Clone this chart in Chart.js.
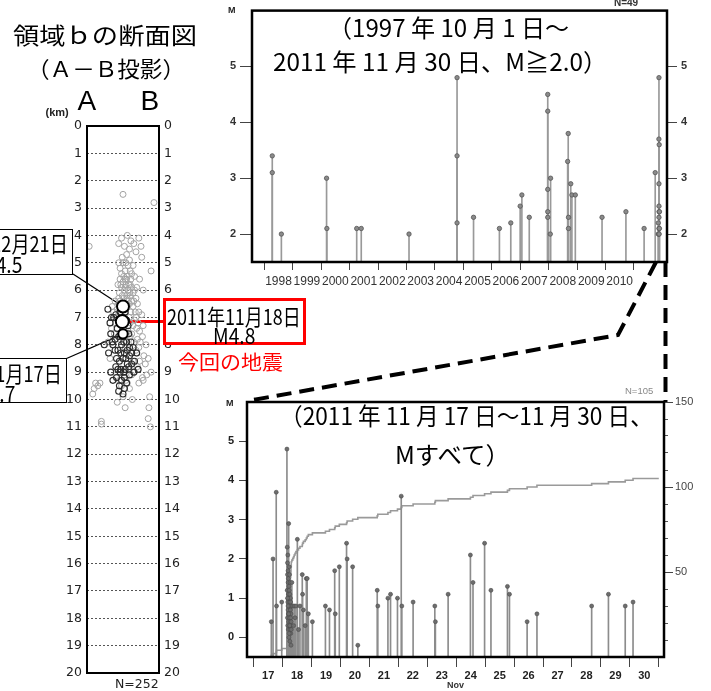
<!DOCTYPE html>
<html lang="ja">
<head>
<meta charset="utf-8">
<title>領域ｂの断面図と地震活動経過図</title>
<script src="https://cdn.jsdelivr.net/npm/chart.js@4.4.1/dist/chart.umd.min.js"></script>
<style>
  html, body { margin: 0; padding: 0; background: #fff; }
  body { position: relative; width: 711px; height: 691px; overflow: hidden; font-family: "Noto Sans CJK JP", sans-serif; }
  canvas { position: absolute; }
  .t { position: absolute; white-space: nowrap; line-height: 1; color: #000; }
  .box { position: absolute; box-sizing: border-box; background: #fff; }
  svg { position: absolute; left: 0; top: 0; }
</style>
</head>
<body>
<svg id="leaders" width="711" height="691" style="z-index:0"></svg>
<canvas id="cross" width="200" height="580" style="left:0;top:110px;z-index:1"></canvas>
<canvas id="longterm" width="489" height="292" style="left:222px;top:0;z-index:1"></canvas>
<canvas id="recent" width="489" height="311" style="left:222px;top:380px;z-index:1"></canvas>
<svg id="zoomlines" width="711" height="691" style="z-index:3"></svg>

<script>
// ---------- cross-section A-B (depth in km, distance along section in km) ----------
const depthTicks = [0,1,2,3,4,5,6,7,8,9,10,11,12,13,14,15,16,17,18,19,20];

// hypocentres before 2011-11-17 : [distance, depth]
const hypoPast = [
  [5.0,2.5],[9.3,2.8],[0.3,4.4],[4.4,4.3],[4.8,4.1],[5.2,4.4],[5.6,4.0],[5.9,4.5],[6.1,4.2],[6.5,4.3],
  [7.2,4.1],[7.5,4.4],[7.6,4.8],[6.8,4.6],
  [4.9,4.8],[5.5,4.7],[5.0,5.0],[5.4,5.0],[5.7,5.1],[6.0,5.3],[5.3,5.3],[4.8,5.4],[6.2,5.4],[6.4,5.1],
  [8.9,5.3],[4.6,5.2],[5.1,5.5],[5.6,5.5],[5.9,4.9],[6.6,5.5],[4.4,5.0],
  [4.6,5.6],[5.0,5.7],[5.5,5.6],[6.0,5.8],[4.8,5.9],[5.3,5.9],[5.7,6.0],[6.2,5.9],[6.4,6.1],[4.5,6.1],
  [4.9,6.2],[5.5,6.2],[6.0,6.2],[6.9,5.9],[7.3,5.6],[5.2,6.0],[5.8,5.8],[4.3,5.8],[6.6,6.0],[5.1,6.3],
  [5.6,6.3],[6.2,6.4],[4.7,5.8],[5.4,5.8],[6.1,5.6],[5.9,6.1],[4.4,6.3],[6.8,6.3],[7.8,6.0],[5.3,5.6],
  [3.9,6.4],[4.4,6.5],[5.9,6.5],[6.4,6.6],[6.7,6.8],[3.7,6.8],[7.2,6.8],[4.2,6.7],[6.5,6.4],[4.0,7.0],
  [6.8,7.0],[7.6,6.9],[3.5,6.6],[5.6,6.4],[4.6,6.4],[6.1,6.8],[7.0,6.5],
  [6.0,7.2],[6.4,7.3],[6.9,7.4],[7.3,7.5],[5.7,7.5],[4.0,7.2],[6.6,7.1],[7.8,7.3],[3.8,7.6],[6.2,7.6],
  [5.9,7.0],[7.1,7.2],[3.4,7.4],
  [6.0,7.7],[6.5,7.9],[7.0,7.8],[7.4,7.9],[7.2,8.1],[8.2,8.0],[6.8,8.2],[4.6,7.8],[5.3,8.1],[7.7,7.7],[2.9,7.9],
  [8.5,8.5],[7.3,8.6],[6.9,8.3],[6.4,8.6],[7.9,8.4],[8.1,8.7],[7.0,8.8],[3.2,8.5],
  [5.8,8.9],[6.2,9.1],[6.6,9.0],[7.7,9.2],[5.4,9.3],[8.3,9.1],[4.5,9.3],[4.8,9.5],[7.2,9.4],[8.9,9.0],
  [1.0,9.6],[1.2,9.4],[0.8,9.8],[1.5,9.5],[1.8,9.4],[5.6,9.4],[5.9,9.6],[7.8,9.3],[8.7,9.9],[5.0,9.9],
  [5.3,10.3],[8.5,10.7],[8.6,10.3],[2.0,10.8],[2.0,10.9],[8.8,11.0],[6.3,10.0],[4.2,10.1]
];

// hypocentres from 2011-11-17 : [distance, depth]
const hypoRecent = [
  [2.9,6.7],[3.4,7.0],[3.2,7.2],[3.7,7.0],[4.0,6.9],[3.3,7.6],[3.5,7.9],[2.4,8.0],[3.6,8.0],[3.9,8.2],
  [4.3,8.2],[5.5,7.9],[5.9,8.1],[6.4,8.1],[4.1,8.5],[4.5,8.6],[5.0,8.5],[5.4,8.5],[5.9,8.4],[6.6,8.6],
  [4.7,8.9],[5.3,8.9],[5.8,8.8],[6.5,9.0],[7.1,8.9],[4.1,9.2],[4.8,9.3],[5.2,9.2],[5.9,9.1],[4.5,9.5],
  [5.2,9.6],[4.0,8.8],[4.4,7.7],[4.8,8.0],[5.2,8.3],[6.2,8.3],[3.0,8.3],[5.6,8.7],[6.2,8.7],[4.6,9.0],
  [5.5,9.4],[3.3,9.0],[3.6,9.3],[4.9,7.7],[5.6,8.2],[4.3,8.9],[5.1,9.0],[6.9,8.3],[5.0,6.5],[5.3,6.8],
  [4.6,6.8],[5.7,7.3],[4.2,7.4],[5.5,7.1],[3.9,7.8],[4.7,8.3],[5.8,7.6],[4.5,7.2],[5.1,7.9],[6.1,7.9],
  [4.4,9.7],[5.0,9.8]
];

// labelled events: distance, depth, magnitude
const namedQuakes = [
  { x: 5.0, d: 6.6,  m: 4.5 },   // 2007-12-21
  { x: 4.9, d: 7.15, m: 4.8 },   // 2011-11-18
  { x: 5.0, d: 7.6,  m: 3.7 }    // 2011-11-17
];

// ---------- M-T diagram 1997-10-01 .. 2011-11-30 (M >= 2.0) ----------
const yearTicks  = [1998,1999,2000,2001,2002,2003,2004,2005,2006,2007,2008,2009,2010,2011];
const yearLabels = ['1998','1999','2000','2001','2002','2003','2004','2005','2006','2007','2008','2009','2010'];
const magTicksLong = [2,3,4,5];
// [decimal year, M]
const longEvents = [
  [1998.28,3.4],[1998.28,3.1],[1998.60,2.0],[2000.19,3.0],[2000.20,2.1],[2001.25,2.1],[2001.41,2.1],[2003.09,2.0],
  [2004.78,4.8],[2004.78,3.4],[2004.78,2.2],[2005.36,2.3],[2006.27,2.1],[2006.67,2.2],[2007.00,2.5],[2007.06,2.7],[2007.32,2.3],
  [2007.97,4.5],[2007.97,4.2],[2007.97,2.8],[2007.97,2.4],[2007.97,2.3],[2008.06,2.0],[2008.07,3.0],
  [2008.67,3.3],[2008.69,3.8],[2008.70,2.3],[2008.70,2.1],[2008.78,2.9],[2008.82,2.7],[2008.94,2.7],
  [2009.88,2.3],[2010.72,2.4],[2011.36,2.1],[2011.75,3.1],
  [2011.860,2.2],[2011.862,2.0],
  [2011.880,2.0],[2011.880,3.7],[2011.882,4.8],[2011.882,2.9],[2011.882,2.3],[2011.882,2.1],
  [2011.883,2.5],[2011.886,2.4],[2011.886,2.0],[2011.891,3.6],[2011.898,2.1],[2011.899,2.4]
];

// ---------- M-T diagram 2011-11-17 .. 11-30 (all M) ----------
const dayTicks  = [17,18,19,20,21,22,23,24,25,26,27,28,29,30,31];
const dayLabels = ['17','18','19','20','21','22','23','24','25','26','27','28','29','30'];
const magTicksNov = [0,1,2,3,4,5];
const countTicks = [50,100,150];
const countMinorTicks = [10,20,30,40,60,70,80,90,110,120,130,140];
// [day of November (fractional), M]
const novEvents = [
  [17.61,0.4],[17.67,2.0],[17.78,3.7],[17.79,0.8],[17.97,0.9],
  [18.15,4.8],
  [18.16,2.3],[18.16,1.2],[18.17,1.9],[18.17,0.5],[18.17,1.6],[18.18,0.9],[18.18,2.1],[18.18,0.3],[18.19,1.4],[18.19,0.7],
  [18.19,1.7],[18.20,1.1],[18.20,0.2],[18.20,1.5],[18.20,0.6],[18.21,2.9],[18.21,1.0],[18.21,0.4],[18.22,1.3],[18.22,0.8],
  [18.22,0.0],[18.23,1.8],[18.23,0.5],[18.23,1.2],[18.24,0.9],[18.24,0.3],[18.24,1.6],[18.25,0.6],[18.25,1.1],[18.25,-0.1],
  [18.26,0.8],[18.26,1.4],[18.26,0.2],[18.27,1.0],[18.27,0.4],[18.27,0.7],[18.28,0.1],[18.28,0.9],[18.28,0.5],[18.29,0.3],
  [18.29,0.6],[18.29,-0.2],[18.30,0.8],[18.30,0.2],[18.30,0.4],[18.17,1.0],[18.19,0.8],[18.21,0.6],[18.23,0.1],[18.25,0.3],
  [18.32,1.4],[18.35,0.8],[18.38,0.3],[18.40,0.8],[18.43,0.5],[18.46,0.8],[18.51,2.5],[18.55,0.2],[18.60,0.8],[18.68,1.6],
  [18.69,1.1],[18.72,0.7],[18.78,0.3],[18.82,1.5],[18.85,1.5],[18.89,0.6],
  [19.03,0.4],[19.48,0.8],[19.62,0.7],[19.80,1.7],[19.82,0.6],[19.96,1.8],[20.21,2.4],[20.23,2.0],[20.42,1.8],[20.60,-0.2],
  [21.27,1.2],[21.29,0.8],[21.64,1.0],[21.73,1.1],[21.97,1.0],[22.10,3.6],[22.12,0.8],[22.51,0.9],[23.26,0.8],[23.28,0.4],
  [23.72,1.1],[24.49,2.1],[24.58,1.4],[24.98,2.4],[25.20,1.2],[25.77,1.3],[25.84,1.1],[26.45,0.4],[26.79,0.6],[28.68,0.8],
  [29.26,1.1],[29.84,0.8],[30.11,0.9]
];

// ---------- axis ranges ----------
const LONG_X = [1997.567, 2012.165], LONG_M = [1.5, 6];
const NOV_X = [16.77, 31.18], NOV_M = [-0.5, 6], NOV_N = [0, 150], NOV_END = 31;

// ---------- helpers ----------
const frame = {
  id: 'frame',
  afterDatasetsDraw(chart, args, opts) {
    const a = chart.chartArea, c = chart.ctx;
    c.save();
    c.lineWidth = opts.width || 2;
    c.strokeStyle = '#000';
    c.strokeRect(a.left, a.top, a.right - a.left, a.bottom - a.top);
    c.restore();
  }
};
const fixW = w => s => { s.width = w; };
const fixH = h => s => { s.height = h; };
const setTicks = arr => s => { s.ticks = arr.map(v => ({ value: v })); };
const base = {
  responsive: false, animation: false, devicePixelRatio: 1,
  plugins: { legend: { display: false }, tooltip: { enabled: false } }
};
const LIB = '"Liberation Sans", Arial, sans-serif';

// ---------- cross-section ----------
const crossChart = new Chart(document.getElementById('cross'), {
  type: 'scatter',
  data: {
    datasets: [
      { data: namedQuakes.map(q => ({ x: q.x, y: q.d, m: q.m })), order: 0,
        pointRadius: ctx => 1.6 * ctx.raw.m - 1.2, backgroundColor: '#fff', borderColor: '#000', borderWidth: 2 },
      { data: hypoRecent.map(p => ({ x: p[0], y: p[1] })), order: 1,
        pointRadius: 3, backgroundColor: 'rgba(0,0,0,0)', borderColor: '#2b2b2b', borderWidth: 1.1 },
      { data: hypoPast.map(p => ({ x: p[0], y: p[1] })), order: 2,
        pointRadius: 3, backgroundColor: 'rgba(0,0,0,0)', borderColor: '#a3a3a3', borderWidth: 1 }
    ]
  },
  options: Object.assign({}, base, {
    layout: { padding: { top: 16, bottom: 17, left: 0, right: 0 } },
    plugins: Object.assign({}, base.plugins, { frame: { width: 2 } }),
    scales: {
      x: { type: 'linear', min: 0, max: 10, display: false },
      y: { type: 'linear', position: 'left', reverse: true, min: 0, max: 20,
           afterBuildTicks: setTicks(depthTicks), afterFit: fixW(87),
           border: { display: false, dash: [2, 2] },
           grid: { color: '#555', lineWidth: 1, drawTicks: false },
           ticks: { autoSkip: false, padding: 5, color: '#222', font: { family: '"DejaVu Sans", sans-serif', size: 12.5 } } },
      y2: { type: 'linear', position: 'right', reverse: true, min: 0, max: 20,
           afterBuildTicks: setTicks(depthTicks), afterFit: fixW(41),
           border: { display: false },
           grid: { drawOnChartArea: false, drawTicks: false },
           ticks: { autoSkip: false, padding: 5, color: '#222', font: { family: '"DejaVu Sans", sans-serif', size: 12.5 } } }
    }
  }),
  plugins: [frame]
});

// ---------- long-term M-T ----------
new Chart(document.getElementById('longterm'), {
  type: 'bar',
  data: {
    datasets: [
      { type: 'scatter', order: 0, data: longEvents.map(e => ({ x: e[0], y: e[1] })),
        pointRadius: 2.2, backgroundColor: '#8a8a8a', borderColor: '#555', borderWidth: 0.8 },
      { type: 'bar', order: 1, data: longEvents.map(e => ({ x: e[0], y: e[1] })),
        base: LONG_M[0], barThickness: 1, grouped: false, backgroundColor: '#999', borderWidth: 0 }
    ]
  },
  options: Object.assign({}, base, {
    layout: { padding: { top: 10, left: 0, right: 0, bottom: 0 } },
    plugins: Object.assign({}, base.plugins, { frame: { width: 2.5 } }),
    scales: {
      x: { type: 'linear', position: 'bottom', min: LONG_X[0], max: LONG_X[1], offset: false,
           afterBuildTicks: setTicks(yearTicks), afterFit: fixH(30),
           border: { display: false },
           grid: { offset: false, drawOnChartArea: false, tickLength: 8, tickColor: '#444', tickWidth: 1 },
           ticks: { autoSkip: false, maxRotation: 0, minRotation: 0, labelOffset: 14.2, padding: 4,
                    color: '#333', font: { family: LIB, size: 12 },
                    callback: (v, i) => yearLabels[i] || '' } },
      y: { type: 'linear', position: 'left', min: LONG_M[0], max: LONG_M[1],
           afterBuildTicks: setTicks(magTicksLong), afterFit: fixW(30),
           border: { display: false },
           grid: { drawOnChartArea: false, tickLength: 12, tickColor: '#444' },
           ticks: { padding: 4, color: '#333', font: { family: LIB, size: 11, weight: 'bold' } } },
      y2: { type: 'linear', position: 'right', min: LONG_M[0], max: LONG_M[1],
           afterBuildTicks: setTicks(magTicksLong), afterFit: fixW(44),
           border: { display: false },
           grid: { drawOnChartArea: false, tickLength: 10, tickColor: '#444' },
           ticks: { padding: 4, color: '#333', font: { family: LIB, size: 11, weight: 'bold' } } }
    }
  }),
  plugins: [frame]
});

// ---------- recent M-T with cumulative count ----------
const novSorted = novEvents.map(e => e[0]).sort((a, b) => a - b);
const cumulative = [{ x: NOV_X[0], y: 0 }]
  .concat(novSorted.map((t, i) => ({ x: t, y: i + 1 })))
  .concat([{ x: NOV_END, y: novSorted.length }]);

new Chart(document.getElementById('recent'), {
  type: 'bar',
  data: {
    datasets: [
      { type: 'scatter', order: 0, data: novEvents.map(e => ({ x: e[0], y: e[1] })),
        pointRadius: 2, backgroundColor: '#6d6d6d', borderColor: '#4a4a4a', borderWidth: 0.6 },
      { type: 'bar', order: 1, data: novEvents.map(e => ({ x: e[0], y: e[1] })),
        base: NOV_M[0], barThickness: 1, grouped: false, backgroundColor: '#8c8c8c', borderWidth: 0 },
      { type: 'line', order: 2, yAxisID: 'yN', data: cumulative, stepped: 'before',
        borderColor: '#9a9a9a', borderWidth: 1.6, pointRadius: 0, fill: false }
    ]
  },
  options: Object.assign({}, base, {
    layout: { padding: { top: 22, left: 0, right: 0, bottom: 0 } },
    plugins: Object.assign({}, base.plugins, { frame: { width: 2.5 } }),
    scales: {
      x: { type: 'linear', position: 'bottom', min: NOV_X[0], max: NOV_X[1], offset: false,
           afterBuildTicks: setTicks(dayTicks), afterFit: fixH(34),
           border: { display: false },
           grid: { offset: false, drawOnChartArea: false, tickLength: 10, tickColor: '#444' },
           ticks: { autoSkip: false, maxRotation: 0, minRotation: 0, labelOffset: 14.5, padding: 2,
                    color: '#222', font: { family: LIB, size: 11, weight: 'bold' },
                    callback: (v, i) => dayLabels[i] || '' },
           title: { display: true, text: 'Nov', padding: 0, color: '#333',
                    font: { family: LIB, size: 9, weight: 'bold' } } },
      y: { type: 'linear', position: 'left', min: NOV_M[0], max: NOV_M[1],
           afterBuildTicks: setTicks(magTicksNov), afterFit: fixW(25),
           border: { display: false },
           grid: { drawOnChartArea: false, tickLength: 8, tickColor: '#444' },
           ticks: { padding: 5, color: '#222', font: { family: LIB, size: 11, weight: 'bold' } } },
      yNm: { type: 'linear', position: 'right', weight: 0, min: NOV_N[0], max: NOV_N[1],
           afterBuildTicks: setTicks(countMinorTicks), afterFit: fixW(0),
           border: { display: false },
           grid: { drawOnChartArea: false, tickLength: 4, tickColor: '#555' },
           ticks: { display: false } },
      yN: { type: 'linear', position: 'right', weight: 1, min: NOV_N[0], max: NOV_N[1],
           afterBuildTicks: setTicks(countTicks), afterFit: fixW(47),
           border: { display: false },
           grid: { drawOnChartArea: false, tickLength: 9, tickColor: '#444' },
           ticks: { padding: 2, color: '#444', font: { family: LIB, size: 11 } } }
    }
  }),
  plugins: [frame]
});

// ---------- text ----------
const CJK = '"Noto Sans CJK JP", sans-serif';
function text(str, o) {
  const d = document.createElement('div');
  d.className = 't';
  d.textContent = str;
  d.style.fontSize = o.size + 'px';
  d.style.fontFamily = o.font || CJK;
  if (o.weight) d.style.fontWeight = o.weight;
  if (o.color) d.style.color = o.color;
  if (o.ls) d.style.letterSpacing = o.ls + 'px';
  d.style.zIndex = o.z || 4;
  document.body.appendChild(d);
  const nw = d.offsetWidth;
  const s = o.w ? o.w / nw : 1;
  const vc = o.vc !== undefined ? o.vc : (o.font ? 0.48 : 0.56);
  d.style.left = (o.x - nw * s / 2) + 'px';
  d.style.top = (o.y - vc * o.size) + 'px';
  d.style.transformOrigin = '0 0';
  d.style.transform = 'scaleX(' + s + ')';
  return d;
}
function box(l, t, r, b, border, z) {
  const d = document.createElement('div');
  d.className = 'box';
  Object.assign(d.style, { left: l + 'px', top: t + 'px', width: (r - l) + 'px', height: (b - t) + 'px', border: border, zIndex: z || 2 });
  document.body.appendChild(d);
}

// cross-section titles
text('領域ｂの断面図', { x: 105, y: 36, size: 23, w: 184 });
text('（Ａ－Ｂ投影）', { x: 106, y: 68, size: 22, w: 158 });
text('(km)', { x: 57, y: 112, size: 11, font: LIB, weight: 'bold', color: '#222' });
text('A', { x: 87, y: 100, size: 28, font: LIB });
text('B', { x: 150, y: 100, size: 28, font: LIB });
text('N=252', { x: 137, y: 684, size: 12.5, font: '"DejaVu Sans", sans-serif', color: '#222' });

// callout boxes
box(-70, 229, 73, 275, '1.5px solid #000');
text('2007年12月21日', { x: 0.5, y: 243, size: 22, w: 135 });
text('M4.5', { x: 1, y: 264, size: 22, w: 42 });
box(-80, 358, 67, 403, '1.5px solid #000');
text('2011年11月17日', { x: -5.8, y: 373, size: 22, w: 135 });
text('M3.7', { x: -6, y: 393, size: 22, w: 42 });
box(163, 298, 306, 345, '3px solid #f00');
text('2011年11月18日', { x: 234, y: 316, size: 22, w: 134 });
text('M4.8', { x: 234, y: 335, size: 22, w: 42 });
text('今回の地震', { x: 230, y: 363, size: 20, w: 105, color: '#f00' });

// long-term panel
text('（1997 年 10 月 1 日～', { x: 448, y: 28, size: 24, w: 241 });
text('2011 年 11 月 30 日、M≧2.0）', { x: 440, y: 62, size: 24, w: 334 });
text('M', { x: 232, y: 10, size: 9, font: LIB, weight: 'bold', color: '#222' });
text('N=49', { x: 626, y: 3, size: 10, font: LIB, weight: 'bold', color: '#333' });

// recent panel
text('（2011 年 11 月 17 日～11 月 30 日、', { x: 466.5, y: 416, size: 24, w: 373 });
text('Mすべて）', { x: 452.5, y: 455, size: 24, w: 115 });
text('M', { x: 230, y: 403, size: 9, font: LIB, weight: 'bold', color: '#222' });
text('N=105', { x: 639, y: 391, size: 9.5, font: LIB, color: '#888' });

// ---------- leader lines ----------
const NS = 'http://www.w3.org/2000/svg';
function line(svg, pts, attrs) {
  const p = document.createElementNS(NS, 'polyline');
  p.setAttribute('points', pts.map(q => q.join(',')).join(' '));
  p.setAttribute('fill', 'none');
  for (const k in attrs) p.setAttribute(k, attrs[k]);
  svg.appendChild(p);
}
const cx = crossChart.scales.x, cy = crossChart.scales.y;
const quakePx = namedQuakes.map(q => [cx.getPixelForValue(q.x), 110 + cy.getPixelForValue(q.d)]);
const leaders = document.getElementById('leaders');
line(leaders, [[73, 274], quakePx[0]], { stroke: '#000', 'stroke-width': 1.2 });
line(leaders, [[66.5, 358.5], quakePx[2]], { stroke: '#000', 'stroke-width': 1.2 });
line(leaders, [quakePx[1], [164, quakePx[1][1]]], { stroke: '#f00', 'stroke-width': 3 });

const zl = document.getElementById('zoomlines');
line(zl, [[656, 262], [618, 335], [247, 401]], { stroke: '#000', 'stroke-width': 4, 'stroke-dasharray': '15 8' });
line(zl, [[665.5, 262], [665.5, 402]], { stroke: '#000', 'stroke-width': 4, 'stroke-dasharray': '15 8' });
</script>
</body>
</html>
